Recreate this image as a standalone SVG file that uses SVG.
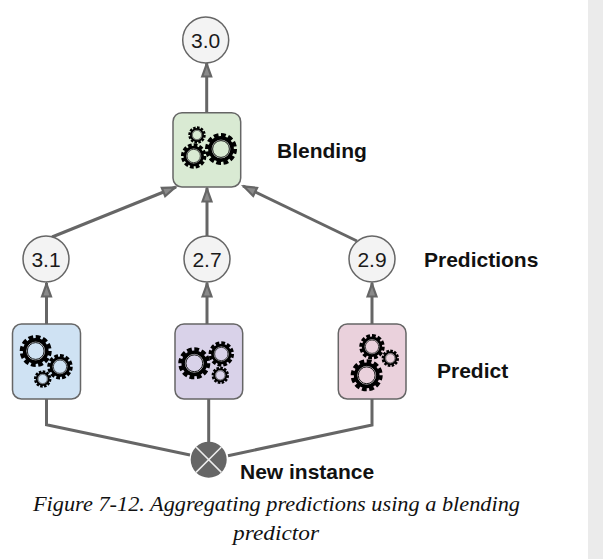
<svg xmlns="http://www.w3.org/2000/svg" xmlns:xlink="http://www.w3.org/1999/xlink" width="603" height="559" viewBox="0 0 603 559">
<style>
.box{stroke:#666;stroke-width:1.5}
.val{fill:#f3f3f3;stroke:#666;stroke-width:1.5}
.num{font:21px "Liberation Sans",Arial,sans-serif;fill:#1a1a1a;text-anchor:middle}
.lbl{font:bold 21px "Liberation Sans",Arial,sans-serif;fill:#111}
.cap{font:italic 22px "Liberation Serif","Times New Roman",serif;fill:#111}
.con{fill:none;stroke:#666;stroke-width:3;stroke-linejoin:miter}
.arr{marker-end:url(#ah)}
</style>
<defs>
<marker id="ah" markerUnits="userSpaceOnUse" markerWidth="20" markerHeight="20" refX="15" refY="6" orient="auto" overflow="visible">
<path d="M1.5 1.5L14 6L1.5 10.5Z" fill="#8a8a8a" stroke="#666" stroke-width="2.2"/>
</marker>
<g id="gear">
<circle r="12" fill="none" stroke="#000" stroke-width="4.6" pathLength="24" stroke-dasharray="1.3 .7"/>
<circle r="9.8" fill="none" stroke="#000" stroke-width="3.4"/>
<circle r="8" fill="none" stroke="#fff" stroke-width="0.5"/>
<circle r="7.5" fill="none" stroke="#000" stroke-width="0.8"/>
</g>
</defs>
<rect width="603" height="559" fill="#fff"/>
<rect x="588" y="0" width="15" height="559" fill="#ebebeb"/>
<g id="connectors">
<path class="con arr" d="M206.7 113V63"/>
<path class="con arr" d="M52 237L176 187"/>
<path class="con arr" d="M207 236V188"/>
<path class="con arr" d="M357 241L243 186"/>
<path class="con arr" d="M46.5 324V283"/>
<path class="con arr" d="M207 324V283"/>
<path class="con arr" d="M372 324V283"/>
<path class="con" d="M46.5 399V424.7L190 455"/>
<path class="con" d="M208.7 399V442"/>
<path class="con" d="M372 399V425L228 455.7"/>
</g>
<g id="output"><circle class="val" cx="205.7" cy="40" r="23"/><text class="num" x="205.7" y="47.5">3.0</text></g>
<g id="blender">
<rect class="box" x="173" y="112.7" width="67.7" height="74.3" rx="9" fill="#d9ead3"/>
<use xlink:href="#gear" transform="translate(197 135) scale(.61)"/>
<use xlink:href="#gear" transform="translate(193.7 156) scale(.89)"/>
<use xlink:href="#gear" transform="translate(221 149) scale(1.12)"/>
</g>
<g id="pred1"><circle class="val" cx="46" cy="259" r="23"/><text class="num" x="46" y="266.5">3.1</text></g>
<g id="pred2"><circle class="val" cx="207" cy="259" r="23"/><text class="num" x="207" y="266.5">2.7</text></g>
<g id="pred3"><circle class="val" cx="372" cy="259" r="23"/><text class="num" x="372" y="266.5">2.9</text></g>
<g id="predictor1">
<rect class="box" x="12.5" y="324" width="68" height="75" rx="9" fill="#cfe2f3"/>
<use xlink:href="#gear" transform="translate(35.7 351) scale(1.12)"/>
<use xlink:href="#gear" transform="translate(60 366.7) scale(.89)"/>
<use xlink:href="#gear" transform="translate(42.7 379) scale(.61)"/>
</g>
<g id="predictor2">
<rect class="box" x="175" y="324" width="67.7" height="75" rx="9" fill="#d9d2e9"/>
<use xlink:href="#gear" transform="translate(194.3 363.3) scale(1.12)"/>
<use xlink:href="#gear" transform="translate(221.3 354) scale(.89)"/>
<use xlink:href="#gear" transform="translate(220.3 375.3) scale(.61)"/>
</g>
<g id="predictor3">
<rect class="box" x="338.3" y="324" width="67.7" height="75" rx="9" fill="#ead1dc"/>
<use xlink:href="#gear" transform="translate(372 346.7) scale(.89)"/>
<use xlink:href="#gear" transform="translate(390.3 358.3) scale(.61)"/>
<use xlink:href="#gear" transform="translate(366.7 375.3) scale(1.12)"/>
</g>
<g id="input">
<circle cx="208.7" cy="459.7" r="18" fill="#666"/>
<path d="M196 447L221.4 472.4M221.4 447L196 472.4" stroke="#eee" stroke-width="1.5" fill="none"/>
</g>
<text class="lbl" x="277" y="158">Blending</text>
<text class="lbl" x="424" y="267">Predictions</text>
<text class="lbl" x="437" y="378">Predict</text>
<text class="lbl" x="240" y="479">New instance</text>
<text class="cap" x="33" y="511" textLength="487" lengthAdjust="spacingAndGlyphs">Figure 7-12. Aggregating predictions using a blending</text>
<text class="cap" x="233" y="540" textLength="86" lengthAdjust="spacingAndGlyphs">predictor</text>
</svg>
